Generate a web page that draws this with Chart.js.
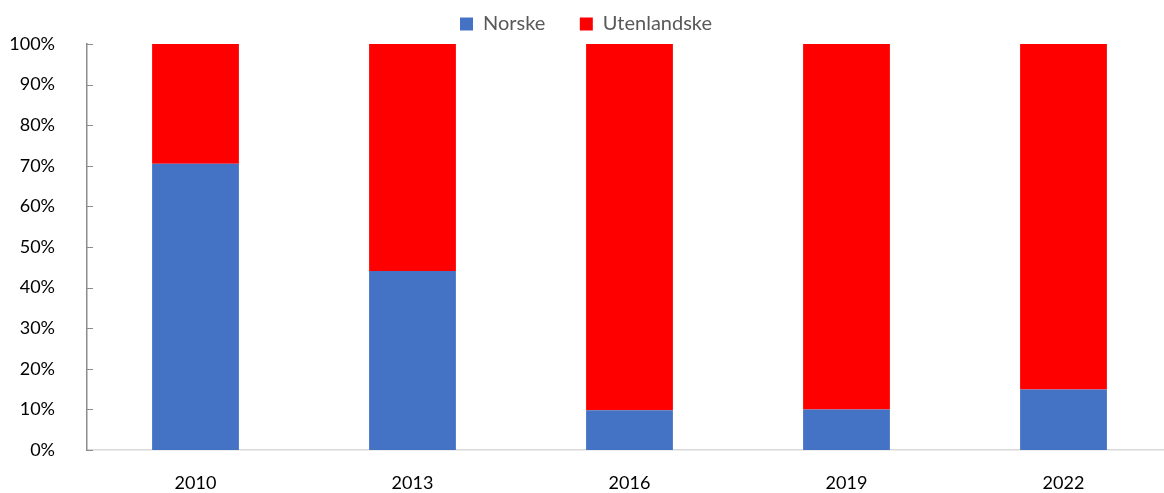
<!DOCTYPE html>
<html>
<head>
<meta charset="utf-8">
<script src="https://cdn.jsdelivr.net/npm/chart.js@4"></script>
<style>
  html, body { margin: 0; padding: 0; background: #fff; overflow: hidden; }
  #wrap { width: 1172px; height: 493px; }
</style>
</head>
<body>
<div id="wrap"><canvas id="chart"></canvas></div>
<script>
const years = ["2010", "2013", "2016", "2019", "2022"];
const norske = [70.5, 44.1, 9.8, 10.0, 14.9];
const utenlandske = [29.5, 55.9, 90.2, 90.0, 85.1];

// short tick marks pointing into the plot, like the original
const innerTicks = {
    id: "innerTicks",
    afterDatasetsDraw(chart) {
        const y = chart.scales.y;
        const ctx = chart.ctx;
        ctx.save();
        ctx.strokeStyle = "#8c8c8c";
        ctx.lineWidth = 1;
        y.ticks.forEach(t => {
            const py = Math.round(y.getPixelForValue(t.value)) + 0.5;
            ctx.beginPath();
            ctx.moveTo(y.right, py);
            ctx.lineTo(y.right + 6, py);
            ctx.stroke();
        });
        ctx.restore();
    }
};

const ctx = document.getElementById("chart").getContext("2d");
new Chart(ctx, {
    type: "bar",
    data: {
        labels: years,
        datasets: [
            // trailing spaces widen the gap between the two legend items
            { label: "Norske    ", data: norske, backgroundColor: "#4472C4" },
            { label: "Utenlandske", data: utenlandske, backgroundColor: "#FF0000" }
        ]
    },
    options: {
        responsive: true,
        maintainAspectRatio: false,
        animation: false,
        datasets: { bar: { barPercentage: 0.4, categoryPercentage: 1 } },
        layout: { padding: { left: 0, right: 0, top: 0, bottom: 0 } },
        scales: {
            x: {
                stacked: true,
                grid: { display: false },
                border: { color: "#d9d9d9", width: 1.5 },
                ticks: { color: "#000", font: { family: "Lato", size: 18 }, padding: 14 },
                afterFit(s) { s.height = 43; }
            },
            y: {
                stacked: true,
                min: 0, max: 100,
                grid: { display: false },
                border: { color: "#8c8c8c", width: 1.5 },
                ticks: {
                    stepSize: 10,
                    color: "#000",
                    padding: 24,
                    font: { family: "Lato", size: 18 },
                    callback: v => v + "%"
                },
                afterFit(s) { s.width = 87; }
            }
        },
        plugins: {
            legend: {
                position: "top",
                labels: {
                    color: "#595959",
                    font: { family: "Lato", size: 20 },
                    boxWidth: 13, boxHeight: 13,
                    padding: 14
                }
            },
            tooltip: { enabled: false }
        }
    },
    plugins: [innerTicks]
});
</script>
</body>
</html>
